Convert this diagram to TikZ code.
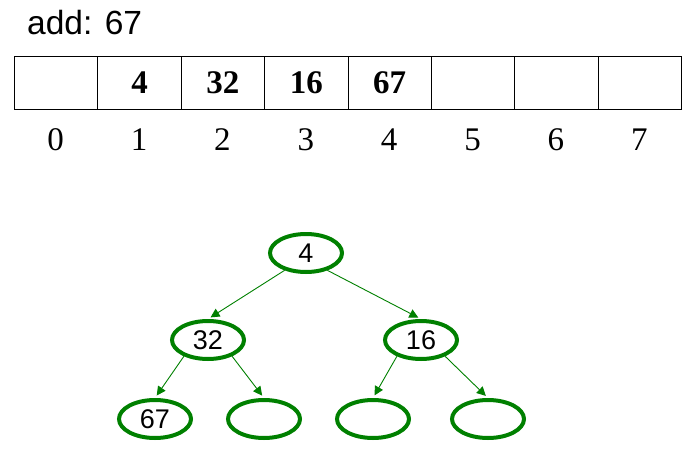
\documentclass[tikz,border=0pt]{standalone}
\usepackage{fontspec}
\setmainfont{Liberation Serif}
\newfontfamily\arialf{Liberation Sans}
\usetikzlibrary{arrows.meta,shapes.geometric}
\definecolor{treegreen}{RGB}{0,128,0}
\begin{document}
\begin{tikzpicture}[x=1pt,y=-1pt,
  cellbox/.style={draw=black,line width=1pt,minimum width=83.4pt,minimum height=53pt,inner sep=0pt,anchor=north west},
  celltext/.style={font=\fontsize{33}{35}\selectfont\bfseries,inner sep=0pt},
  idxlab/.style={font=\fontsize{33}{35}\selectfont,inner sep=0pt},
  heapnode/.style={ellipse,draw=treegreen,line width=4pt,minimum width=72pt,minimum height=38pt,inner sep=0pt,font=\arialf\fontsize{27}{29}\selectfont},
  heapedge/.style={draw=treegreen,line width=0.9pt,-{Triangle[length=9pt,width=9pt]},shorten >=3pt}]
\useasboundingbox (0,0) rectangle (693,460);
\node[anchor=base west,inner sep=0pt,font=\arialf\fontsize{33.5}{35}\selectfont] (title) at (27,35) {add: 67};
\foreach \i/\v in {0/,1/4,2/32,3/16,4/67,5/,6/,7/}{
  \node[cellbox] (cell\i) at ({14+83.375*\i},56) {};
  \node[celltext] (val\i) at (cell\i.center) {\v};
  \node[idxlab,anchor=base] (idx\i) at ({14+83.375*\i+41.7},150) {\i};
}
\node[heapnode] (r) at (306,253) {4};
\node[heapnode] (a) at (208,340) {32};
\node[heapnode] (b) at (421,340) {16};
\node[heapnode] (a1) at (155,419) {67};
\node[heapnode] (a2) at (264,419) {};
\node[heapnode] (b1) at (373,419) {};
\node[heapnode] (b2) at (488,419) {};
\draw[heapedge] (r.-141) -- (a.north);
\draw[heapedge] (r.-39) -- (b.north);
\draw[heapedge] (a.-146) -- (a1.north);
\draw[heapedge] (a.-34) -- (a2.north);
\draw[heapedge] (b.-146) -- (b1.north);
\draw[heapedge] (b.-34) -- (b2.north);
\end{tikzpicture}
\end{document}
